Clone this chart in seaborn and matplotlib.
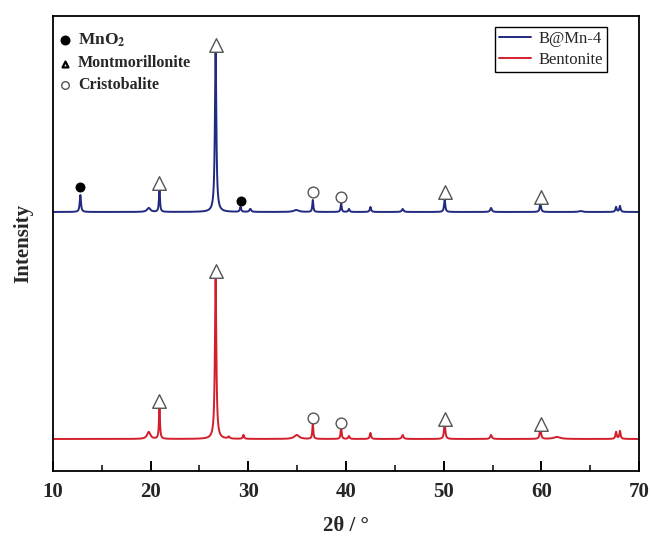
import numpy as np
import pandas as pd
import matplotlib
matplotlib.use("Agg")
import matplotlib.pyplot as plt
from matplotlib.ticker import FixedLocator
import seaborn as sns

# ---------------- data ----------------
series_names = ["B@Mn-4", "Bentonite"]
offsets = [259, 32]

# B@Mn-4 peaks: position (2theta), height, FWHM
blue_pos = [12.8, 19.8, 20.9, 26.65, 29.2, 30.2, 34.9, 36.6, 39.5, 40.3, 42.5, 45.8, 50.1, 54.85, 59.9, 64.0, 67.65, 68.05]
blue_hgt = [17, 4, 24, 164, 5, 3, 2, 12, 9, 3, 5, 3, 12, 4, 9, 1, 5, 6]
blue_wid = [0.15, 0.4, 0.12, 0.17, 0.15, 0.2, 0.6, 0.12, 0.12, 0.15, 0.15, 0.2, 0.15, 0.2, 0.15, 0.4, 0.15, 0.15]

# Bentonite peaks
red_pos = [19.8, 20.9, 26.65, 28.0, 29.5, 34.95, 36.6, 39.5, 40.3, 42.5, 45.8, 50.1, 54.85, 59.9, 61.6, 67.65, 68.05]
red_hgt = [7, 33, 162, 2, 4, 4, 15, 12, 3, 6, 4, 17, 4, 12, 2, 7, 8]
red_wid = [0.4, 0.12, 0.17, 0.2, 0.15, 0.6, 0.12, 0.12, 0.15, 0.15, 0.2, 0.15, 0.2, 0.15, 0.8, 0.15, 0.15]

# phase markers: (2theta, y, phase)
blue_mark_x = [12.8, 20.9, 26.65, 29.2, 36.6, 39.5, 50.1, 59.95]
blue_mark_y = [284, 288, 426, 270, 279, 274, 279, 274]
blue_mark_p = ["MnO2", "Mont", "Mont", "MnO2", "Cris", "Cris", "Mont", "Mont"]
red_mark_x = [20.9, 26.65, 36.6, 39.5, 50.1, 59.95]
red_mark_y = [70, 200, 53, 48, 52, 47]
red_mark_p = ["Mont", "Mont", "Cris", "Cris", "Mont", "Mont"]

x_ticks = [10, 20, 30, 40, 50, 60, 70]
x_minor = [15, 25, 35, 45, 55, 65]

# ---------------- build patterns ----------------
tt = np.arange(10, 70.001, 0.02)

def pattern(pos, hgt, wid, off):
    y = np.full_like(tt, float(off))
    for p, h, w in zip(pos, hgt, wid):
        g = (w / 2) ** 2
        y += h * g / ((tt - p) ** 2 + g)
    return y

df = pd.concat([
    pd.DataFrame({"2theta": tt, "I": pattern(blue_pos, blue_hgt, blue_wid, offsets[0]), "sample": series_names[0]}),
    pd.DataFrame({"2theta": tt, "I": pattern(red_pos, red_hgt, red_wid, offsets[1]), "sample": series_names[1]}),
])

# ---------------- plot ----------------
sns.set_style("ticks")
plt.rcParams["font.family"] = ["Liberation Serif", "DejaVu Serif"]
plt.rcParams["mathtext.fontset"] = "stix"

fig = plt.figure(figsize=(6.51, 5.36), dpi=100)
ax = fig.add_axes([0.0814, 0.1213, 0.9002, 0.8489])

palette = {"B@Mn-4": "#222a80", "Bentonite": "#d21f2b"}
sns.lineplot(data=df, x="2theta", y="I", hue="sample", palette=palette,
             linewidth=1.4, ax=ax, estimator=None, sort=False)

ax.set_xlim(10, 70)
ax.set_ylim(0, 455)
ax.set_yticks([])
ax.xaxis.set_major_locator(FixedLocator(x_ticks))
ax.xaxis.set_minor_locator(FixedLocator(x_minor))
ax.tick_params(axis="x", which="major", direction="in", length=7, width=1.4, pad=8,
               labelsize=15, bottom=True, top=False, color="black")
ax.tick_params(axis="x", which="minor", direction="in", length=4, width=1.1,
               bottom=True, top=False, color="black")
for lab in ax.get_xticklabels():
    lab.set_fontweight("bold")
for s in ax.spines.values():
    s.set_visible(True)
    s.set_color("black")
    s.set_linewidth(1.3)

ax.set_xlabel("2θ / °", fontsize=15, fontweight="bold", labelpad=10)
ax.set_ylabel("Intensity", fontsize=15, fontweight="bold", labelpad=14)

def draw_marks(xs, ys, ps):
    for x, y, p in zip(xs, ys, ps):
        if p == "Mont":
            ax.scatter([x], [y], marker="^", s=95, facecolor="white", edgecolor="#555555", linewidth=1.0, zorder=5)
        elif p == "Cris":
            ax.scatter([x], [y], marker="o", s=60, facecolor="white", edgecolor="#555555", linewidth=1.0, zorder=5)
        else:
            ax.scatter([x], [y], marker="o", s=38, facecolor="black", edgecolor="black", zorder=5)

draw_marks(blue_mark_x, blue_mark_y, blue_mark_p)
draw_marks(red_mark_x, red_mark_y, red_mark_p)

# phase key (top-left)
tr = ax.transAxes
ax.scatter([0.021], [0.947], marker="o", s=38, color="black", transform=tr, clip_on=False)
ax.scatter([0.021], [0.895], marker="^", s=18, facecolor="white", edgecolor="black", linewidth=1.6, transform=tr, clip_on=False)
ax.scatter([0.021], [0.848], marker="o", s=30, facecolor="white", edgecolor="#555555", linewidth=1.0, transform=tr, clip_on=False)
ax.text(0.043, 0.947, r"MnO$_\mathbf{2}$", transform=tr, fontsize=12.5, fontweight="bold", va="center")
ax.text(0.043, 0.897, "Montmorillonite", transform=tr, fontsize=11.5, fontweight="bold", va="center")
ax.text(0.043, 0.848, "Cristobalite", transform=tr, fontsize=11.5, fontweight="bold", va="center")

leg = ax.legend(loc="upper left", bbox_to_anchor=(0.754, 0.976), fontsize=12,
                frameon=True, fancybox=False, edgecolor="black", framealpha=1,
                borderaxespad=0, handlelength=1.9, borderpad=0.25, labelspacing=0.3,
                handletextpad=0.45, title=None)
leg.get_frame().set_linewidth(1.0)

fig.savefig("out.png", dpi=100)
